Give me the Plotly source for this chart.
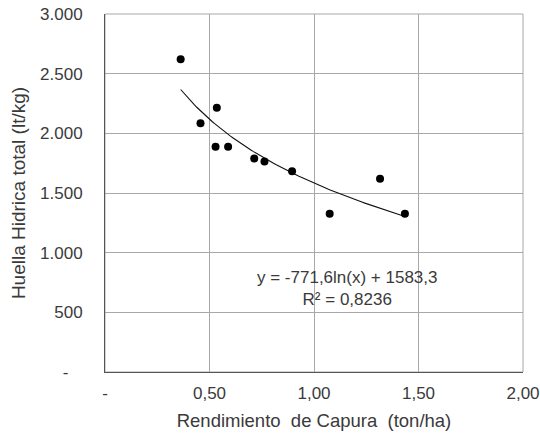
import numpy as np
import plotly.graph_objects as go

# Data
rendimiento = [0.362, 0.457, 0.535, 0.529, 0.589, 0.714, 0.763, 0.895, 1.316, 1.075, 1.435]
huella = [2620, 2084, 2215, 1888, 1888, 1790, 1765, 1682, 1620, 1327, 1327]

# Logarithmic trendline coefficients shown on chart
coef_a = -771.6
coef_b = 1583.3
r2_text = "0,8236"

x_tickvals = [0, 0.5, 1.0, 1.5, 2.0]
x_ticktext = ["-", "0,50", "1,00", "1,50", "2,00"]
y_tickvals = [0, 500, 1000, 1500, 2000, 2500, 3000]
y_ticktext = ["-   ", "500", "1.000", "1.500", "2.000", "2.500", "3.000"]

xt = np.linspace(min(rendimiento), max(rendimiento), 100)
yt = coef_a * np.log(xt) + coef_b

font_family = "Liberation Sans, Arial, sans-serif"
text_color = "#3a3a3a"
fs = 17

fig = go.Figure()
fig.add_trace(go.Scatter(x=xt, y=yt, mode="lines",
                         line=dict(color="#111111", width=1.1),
                         hoverinfo="skip", showlegend=False))
fig.add_trace(go.Scatter(x=rendimiento, y=huella, mode="markers",
                         marker=dict(color="#000000", size=8),
                         showlegend=False))

fig.add_annotation(x=1.159, y=702, xref="x", yref="y",
                   text="y = -771,6ln(x) + 1583,3<br>R² = " + r2_text,
                   showarrow=False, align="center",
                   font=dict(family=font_family, size=17, color=text_color))

fig.update_layout(
    width=540, height=433,
    margin=dict(l=105, r=17, t=14, b=61, autoexpand=False),
    paper_bgcolor="white", plot_bgcolor="white",
    font=dict(family=font_family, size=fs, color=text_color),
)
fig.update_xaxes(range=[0, 2.0], tickvals=x_tickvals, ticktext=x_ticktext,
                 showgrid=True, gridcolor="#a8a8a8", gridwidth=1,
                 showline=True, linecolor="#555555", linewidth=1, mirror=False,
                 zeroline=False, ticks="", ticklabelstandoff=6, automargin=False,
                 title=dict(text="Rendimiento  de Capura  (ton/ha)", standoff=11,
                            font=dict(size=18.5)),
                 tickfont=dict(size=fs))
fig.update_yaxes(range=[0, 3000], tickvals=y_tickvals, ticktext=y_ticktext,
                 showgrid=True, gridcolor="#a8a8a8", gridwidth=1,
                 showline=True, linecolor="#555555", linewidth=1,
                 zeroline=False, ticks="", ticklabelstandoff=18, automargin=False,
                 title=dict(text="Huella Hidrica total (lt/kg)", standoff=9,
                            font=dict(size=19)),
                 tickfont=dict(size=fs))
# box outline (top/right)
fig.add_shape(type="rect", xref="paper", yref="paper", x0=0, y0=0, x1=1, y1=1,
              line=dict(color="#a8a8a8", width=1), layer="below")

fig.write_html("out.html", config={"displayModeBar": False},
               post_script="document.body.style.margin='0px';")
